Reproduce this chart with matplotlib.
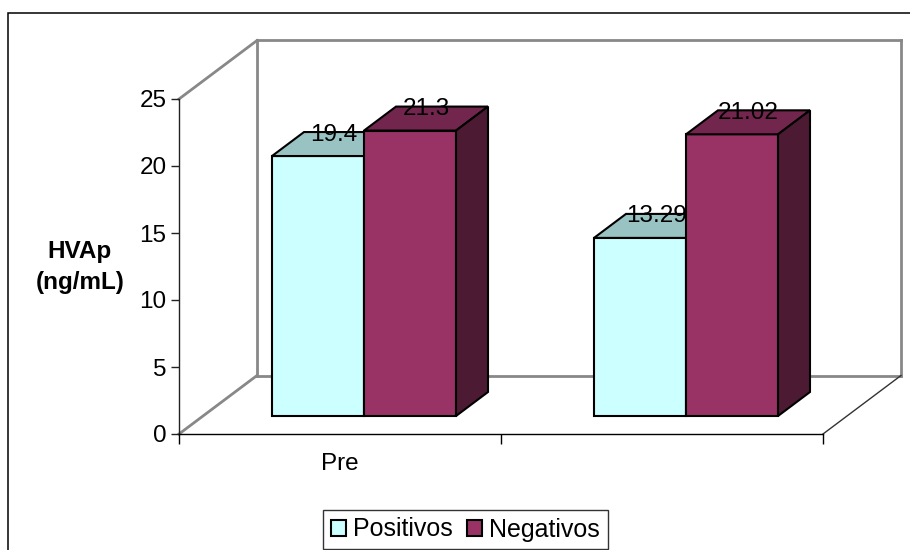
import matplotlib
matplotlib.use("Agg")
import matplotlib.pyplot as plt
from matplotlib.patches import Polygon, Rectangle
from matplotlib.lines import Line2D

plt.rcParams['font.family'] = ['Liberation Sans', 'DejaVu Sans']

# Data
categories = ["Pre", ""]
series_names = ["Positivos", "Negativos"]
positivos = [19.4, 13.29]
negativos = [21.3, 21.02]
value_labels = [["19.4", "13.29"], ["21.3", "21.02"]]
y_ticks = [0, 5, 10, 15, 20, 25]

# Colours (front, top, side) per series
face_colors = [("#CCFFFF", "#99C2C2", "#668080"),
               ("#993366", "#73264D", "#4D1A33")]

FS = 17.5
W, H = 910, 550
fig = plt.figure(figsize=(W / 100, H / 100), dpi=100)
fig.patch.set_facecolor("white")

# Outer chart frame
fig.add_artist(Rectangle((8 / W, -0.02), 1.0, (H - 13) / H + 0.02,
                         transform=fig.transFigure, fill=False,
                         edgecolor="black", linewidth=1.1))

# Front plane of the 3-D plot
ax = fig.add_axes([179 / W, 116 / H, 644 / W, 335 / H])
ax.set_xlim(0, 2)
ax.set_ylim(0, 25)
ax.patch.set_visible(False)
for s in ("top", "right"):
    ax.spines[s].set_visible(False)
ax.spines["left"].set_color("#222222")
ax.spines["left"].set_linewidth(1.0)
ax.spines["bottom"].set_color("black")
ax.spines["bottom"].set_linewidth(1.0)

# Depth projection (full depth offset in data units)
DX = 78 / 322
DY = 58.5 / 13.4
F0, F1 = 0.308, 0.718   # front/back depth fraction of the bars

wall = dict(color="#888888", linewidth=2.0, clip_on=False, zorder=1,
            solid_capstyle="projecting")
xmin, xmax, ymax = 0, 2, 25
# side wall + back wall + floor outline
ax.add_line(Line2D([xmin, xmin + DX], [ymax, ymax + DY], **wall))
ax.add_line(Line2D([xmin + DX, xmax + DX], [ymax + DY, ymax + DY], **wall))
ax.add_line(Line2D([xmax + DX, xmax + DX], [ymax + DY, DY], **wall))
ax.add_line(Line2D([xmin + DX, xmin + DX], [ymax + DY, DY], **wall))
ax.add_line(Line2D([xmin + DX, xmax + DX], [DY, DY], **wall))
ax.add_line(Line2D([xmin, xmin + DX], [0, DY], **wall))
ax.add_line(Line2D([xmax, xmax + DX], [0, DY], color="#333333",
                   linewidth=1.0, clip_on=False, zorder=1))

bar_w = 2 / 7
centers = [0.5, 1.5]
series_values = [positivos, negativos]

for ci, c in enumerate(centers):
    for si, vals in enumerate(series_values):
        v = vals[ci]
        left = c - bar_w + si * bar_w
        front_c, top_c, side_c = face_colors[si]
        x0f, x1f = left + DX * F0, left + bar_w + DX * F0
        x0b, x1b = left + DX * F1, left + bar_w + DX * F1
        yb_f, yb_b = DY * F0, DY * F1
        yt_f, yt_b = v + DY * F0, v + DY * F1
        kw = dict(closed=True, edgecolor="black", linewidth=1.5,
                  clip_on=False, zorder=3 + si, joinstyle="miter")
        ax.add_patch(Polygon([(x0f, yb_f), (x1f, yb_f), (x1f, yt_f), (x0f, yt_f)],
                             facecolor=front_c, **kw))
        ax.add_patch(Polygon([(x0f, yt_f), (x1f, yt_f), (x1b, yt_b), (x0b, yt_b)],
                             facecolor=top_c, **kw))
        ax.add_patch(Polygon([(x1f, yb_f), (x1b, yb_b), (x1b, yt_b), (x1f, yt_f)],
                             facecolor=side_c, **kw))
        ax.text(left + bar_w / 2 + DX * (F0 + F1) / 2, yt_b,
                value_labels[si][ci], ha="center", va="center_baseline",
                fontsize=FS, color="black", zorder=10, clip_on=False)

# Axes ticks
ax.set_yticks(y_ticks)
ax.set_yticklabels([str(t) for t in y_ticks])
ax.tick_params(axis="y", direction="out", length=6, width=1.0,
               color="#222222", labelsize=FS, pad=3)
ax.set_xticks([0, 1, 2])
ax.set_xticklabels(["", "", ""])
ax.set_xticks(centers, minor=True)
ax.set_xticklabels(categories, minor=True)
ax.tick_params(axis="x", which="major", direction="out", length=7,
               width=1.0, color="black")
ax.tick_params(axis="x", which="minor", length=0, labelsize=FS, pad=14)

ax.set_ylabel("HVAp\n(ng/mL)", rotation=0, fontsize=FS, fontweight="bold",
              ha="center", va="center", linespacing=1.45)
ax.yaxis.set_label_coords((80 - 179) / 644, (434 - 267) / 335)

# Legend
handles = [Rectangle((0, 0), 1, 1, facecolor=face_colors[i][0],
                     edgecolor="black", linewidth=1.5) for i in range(2)]
leg = fig.legend(handles, series_names, ncol=2, loc="center",
                 bbox_to_anchor=(465.5 / W, 1 - 529.5 / H),
                 fontsize=18, frameon=True, fancybox=False,
                 handlelength=0.6, handleheight=0.6, handletextpad=0.3,
                 columnspacing=0.55, borderpad=0.3, borderaxespad=0)
leg.get_frame().set_edgecolor("black")
leg.get_frame().set_linewidth(1.0)

fig.savefig("out.png", dpi=100, facecolor="white")
